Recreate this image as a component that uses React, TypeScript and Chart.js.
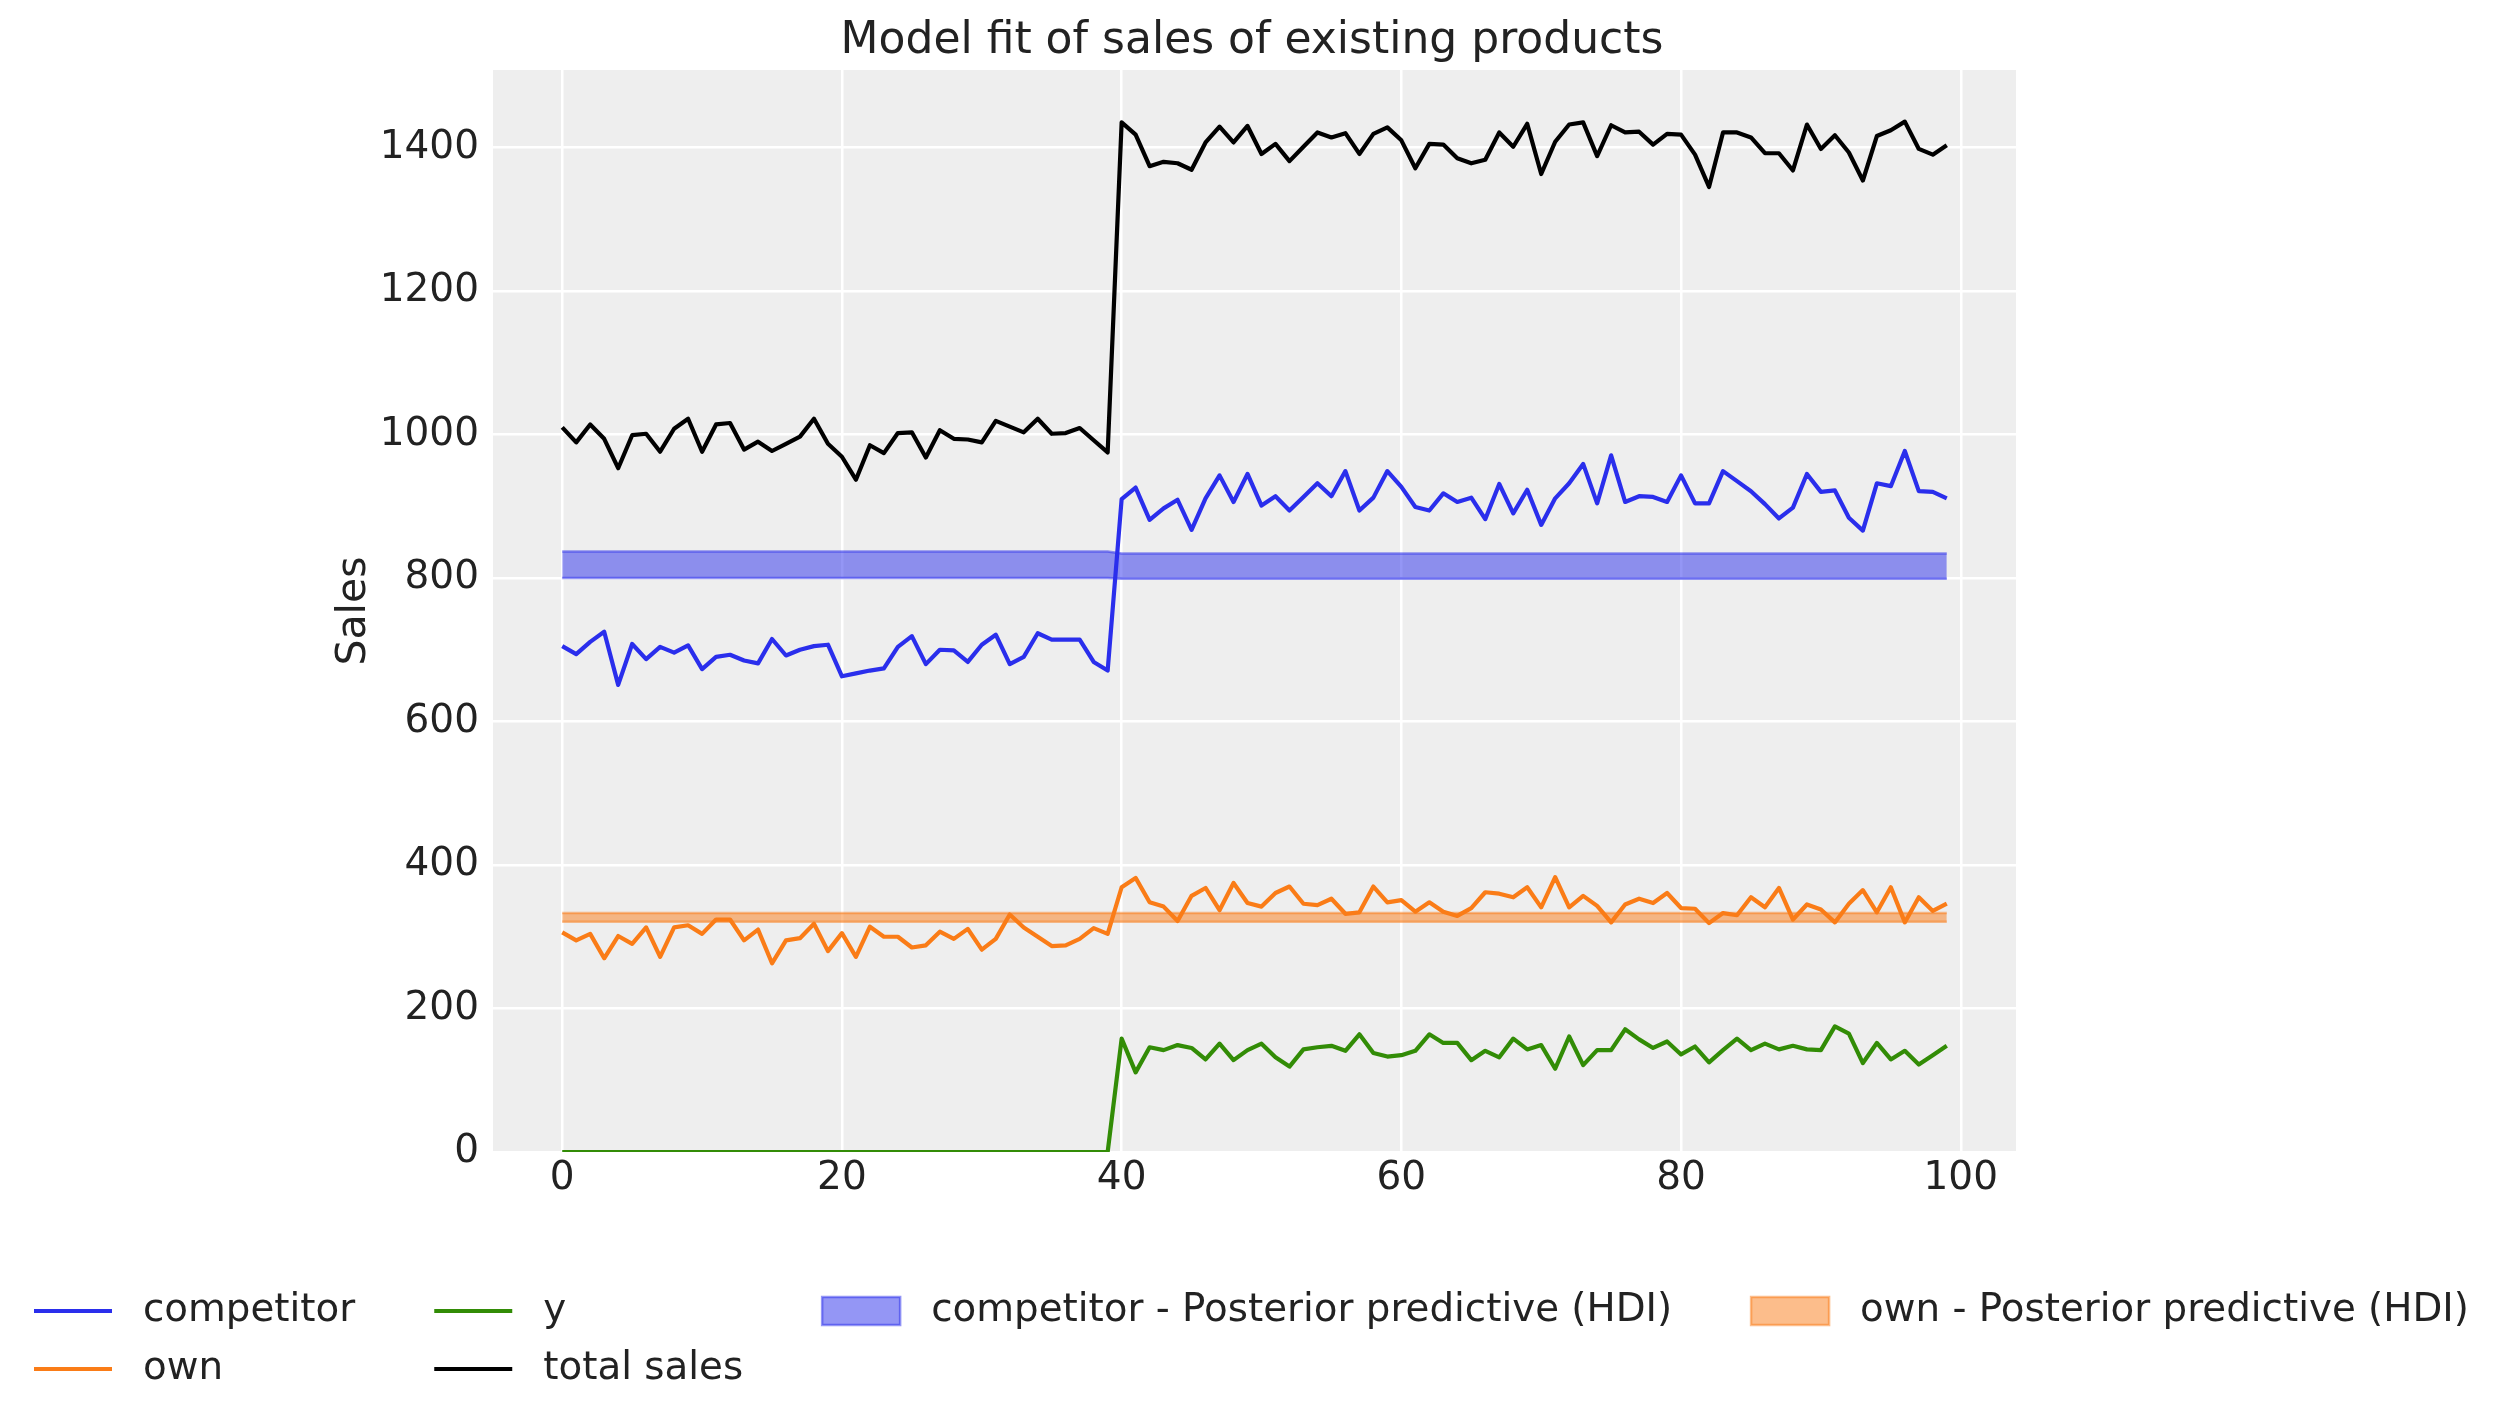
import { useEffect, useRef } from "react";
import { Chart, registerables } from "chart.js";

Chart.register(...registerables);

// values, one per time step 0..99
const competitor = [
  705, 694, 711, 725, 651, 708, 687, 704, 696, 706, 673, 690, 693, 685, 681, 715, 692, 700, 705, 707,
  663, 667, 671, 674, 704, 719, 680, 700, 699, 683, 707, 721, 680, 690, 723, 714, 714, 714, 683, 671,
  910, 926, 881, 897, 909, 867, 911, 943, 906, 945, 901, 914, 894, 913, 932, 914, 949, 894, 912, 949,
  927, 899, 894, 918, 906, 912, 882, 931, 890, 923, 874, 911, 932, 959, 904, 971, 906, 914, 913, 906,
  943, 904, 904, 949, 935, 921, 903, 883, 898, 945, 920, 922, 884, 866, 932, 928, 977, 921, 920, 911,
];
const own = [
  306, 295, 304, 270, 301, 290, 313, 272, 313, 316, 304, 324, 324, 295, 310, 263, 295, 298, 318, 280,
  305, 272, 314, 300, 300, 285, 288, 307, 297, 311, 282, 297, 331, 313, 300, 287, 288, 297, 312, 304,
  369, 382, 348, 342, 322, 357, 368, 337, 375, 347, 342, 361, 370, 346, 344, 353, 332, 334, 370, 348,
  351, 335, 348, 335, 329, 340, 362, 360, 355, 369, 341, 383, 341, 357, 343, 320, 345, 353, 347, 361,
  340, 339, 319, 333, 330, 355, 341, 368, 324, 345, 338, 320, 346, 365, 334, 369, 320, 355, 336, 346,
];
const ySales = [
  0, 0, 0, 0, 0, 0, 0, 0, 0, 0, 0, 0, 0, 0, 0, 0, 0, 0, 0, 0,
  0, 0, 0, 0, 0, 0, 0, 0, 0, 0, 0, 0, 0, 0, 0, 0, 0, 0, 0, 0,
  158, 111, 146, 142, 149, 145, 129, 151, 128, 142, 151, 132, 119, 143, 146, 148, 141, 164, 138, 133,
  135, 141, 164, 152, 152, 128, 141, 132, 158, 143, 149, 116, 161, 121, 142, 142, 171, 157, 145, 154,
  136, 147, 125, 142, 158, 142, 151, 143, 148, 143, 142, 175, 165, 124, 152, 129, 141, 122, 135, 148,
];
const totalSales = [
  1010, 989, 1014, 994, 953, 999, 1001, 976, 1008, 1022, 976, 1014, 1016, 979, 990, 977, 987, 997, 1022, 987,
  969, 937, 985, 974, 1002, 1003, 968, 1006, 994, 993, 989, 1019, 1011, 1003, 1022, 1001, 1002, 1009, 992, 975,
  1435, 1418, 1374, 1380, 1378, 1369, 1407, 1429, 1407, 1430, 1391, 1405, 1381, 1401, 1421, 1414, 1420, 1391, 1419, 1428,
  1410, 1371, 1405, 1404, 1385, 1378, 1383, 1421, 1401, 1433, 1363, 1408, 1432, 1435, 1388, 1431, 1421, 1422, 1404, 1419,
  1418, 1390, 1345, 1421, 1421, 1414, 1392, 1392, 1368, 1432, 1398, 1417, 1393, 1354, 1416, 1424, 1436, 1398, 1390, 1403,
];
const competitorHdiLow = [
  800, 800, 800, 800, 800, 800, 800, 800, 800, 800, 800, 800, 800, 800, 800, 800, 800, 800, 800, 800,
  800, 800, 800, 800, 800, 800, 800, 800, 800, 800, 800, 800, 800, 800, 800, 800, 800, 800, 800, 800,
  799, 799, 799, 799, 799, 799, 799, 799, 799, 799, 799, 799, 799, 799, 799, 799, 799, 799, 799, 799,
  799, 799, 799, 799, 799, 799, 799, 799, 799, 799, 799, 799, 799, 799, 799, 799, 799, 799, 799, 799,
  799, 799, 799, 799, 799, 799, 799, 799, 799, 799, 799, 799, 799, 799, 799, 799, 799, 799, 799, 799,
];
const competitorHdiHigh = [
  837, 837, 837, 837, 837, 837, 837, 837, 837, 837, 837, 837, 837, 837, 837, 837, 837, 837, 837, 837,
  837, 837, 837, 837, 837, 837, 837, 837, 837, 837, 837, 837, 837, 837, 837, 837, 837, 837, 837, 837,
  834, 834, 834, 834, 834, 834, 834, 834, 834, 834, 834, 834, 834, 834, 834, 834, 834, 834, 834, 834,
  834, 834, 834, 834, 834, 834, 834, 834, 834, 834, 834, 834, 834, 834, 834, 834, 834, 834, 834, 834,
  834, 834, 834, 834, 834, 834, 834, 834, 834, 834, 834, 834, 834, 834, 834, 834, 834, 834, 834, 834,
];
const ownHdiLow = [
  321, 321, 321, 321, 321, 321, 321, 321, 321, 321, 321, 321, 321, 321, 321, 321, 321, 321, 321, 321,
  321, 321, 321, 321, 321, 321, 321, 321, 321, 321, 321, 321, 321, 321, 321, 321, 321, 321, 321, 321,
  321, 321, 321, 321, 321, 321, 321, 321, 321, 321, 321, 321, 321, 321, 321, 321, 321, 321, 321, 321,
  321, 321, 321, 321, 321, 321, 321, 321, 321, 321, 321, 321, 321, 321, 321, 321, 321, 321, 321, 321,
  321, 321, 321, 321, 321, 321, 321, 321, 321, 321, 321, 321, 321, 321, 321, 321, 321, 321, 321, 321,
];
const ownHdiHigh = [
  333, 333, 333, 333, 333, 333, 333, 333, 333, 333, 333, 333, 333, 333, 333, 333, 333, 333, 333, 333,
  333, 333, 333, 333, 333, 333, 333, 333, 333, 333, 333, 333, 333, 333, 333, 333, 333, 333, 333, 333,
  333, 333, 333, 333, 333, 333, 333, 333, 333, 333, 333, 333, 333, 333, 333, 333, 333, 333, 333, 333,
  333, 333, 333, 333, 333, 333, 333, 333, 333, 333, 333, 333, 333, 333, 333, 333, 333, 333, 333, 333,
  333, 333, 333, 333, 333, 333, 333, 333, 333, 333, 333, 333, 333, 333, 333, 333, 333, 333, 333, 333,
];
const xTicks = [0, 20, 40, 60, 80, 100];
const yTicks = [0, 200, 400, 600, 800, 1000, 1200, 1400];

const BLUE = "#2a2eec";
const ORANGE = "#fa7c17";
const GREEN = "#328c06";
const BLUE_A = "rgba(42, 46, 236, 0.5)";
const ORANGE_A = "rgba(250, 124, 23, 0.5)";
const TEXT = "#222222";
const FONT = '"DejaVu Sans"';

const toPoints = (vals: number[]) => vals.map((v, i) => ({ x: i, y: v }));

// matplotlib style legend: 4 columns, filled column by column
const legendColumns = [
  [
    { label: "competitor", color: BLUE, patch: false },
    { label: "own", color: ORANGE, patch: false },
  ],
  [
    { label: "y", color: GREEN, patch: false },
    { label: "total sales", color: "#000000", patch: false },
  ],
  [{ label: "competitor - Posterior predictive (HDI)", color: BLUE_A, patch: true }],
  [{ label: "own - Posterior predictive (HDI)", color: ORANGE_A, patch: true }],
];

const backdrop = {
  id: "backdrop",
  beforeDraw(chart: Chart) {
    const { ctx, chartArea: a } = chart;
    ctx.save();
    ctx.fillStyle = "#ffffff";
    ctx.fillRect(0, 0, chart.width, chart.height);
    ctx.fillStyle = "#eeeeee";
    ctx.fillRect(a.left, a.top, a.right - a.left, a.bottom - a.top);
    ctx.restore();
  },
};

const decorations = {
  id: "decorations",
  afterDraw(chart: Chart) {
    const { ctx, chartArea: a } = chart;
    ctx.save();
    ctx.fillStyle = TEXT;

    // title
    ctx.font = `44px ${FONT}`;
    ctx.textAlign = "center";
    ctx.textBaseline = "alphabetic";
    ctx.fillText("Model fit of sales of existing products", chart.width / 2, 53);

    // y axis label
    ctx.save();
    ctx.translate(365, (a.top + a.bottom) / 2);
    ctx.rotate(-Math.PI / 2);
    ctx.font = `41px ${FONT}`;
    ctx.fillText("Sales", 0, 0);
    ctx.restore();

    // legend
    const rowY = [1311, 1369];
    const handleLen = 78;
    const textPad = 31;
    const colGap = 79;
    ctx.font = `38.8px ${FONT}`;
    ctx.textAlign = "left";
    ctx.textBaseline = "middle";
    let x = 34;
    legendColumns.forEach((col) => {
      const w = Math.max(...col.map((it) => ctx.measureText(it.label).width));
      col.forEach((it, row) => {
        const yy = rowY[row];
        if (it.patch) {
          ctx.fillStyle = it.color;
          ctx.fillRect(x, yy - 14, handleLen, 28);
          ctx.strokeStyle = it.color;
          ctx.lineWidth = 2.5;
          ctx.strokeRect(x, yy - 14, handleLen, 28);
        } else {
          ctx.strokeStyle = it.color;
          ctx.lineWidth = 4;
          ctx.beginPath();
          ctx.moveTo(x, yy);
          ctx.lineTo(x + handleLen, yy);
          ctx.stroke();
        }
        ctx.fillStyle = TEXT;
        ctx.fillText(it.label, x + handleLen + textPad, yy);
      });
      x += handleLen + textPad + w + colGap;
    });
    ctx.restore();
  },
};

export default function App() {
  const canvasRef = useRef<HTMLCanvasElement>(null);
  const chartRef = useRef<Chart | null>(null);

  useEffect(() => {
    if (!canvasRef.current) return;
    if (chartRef.current) chartRef.current.destroy();

    const band = (data: number[], color: string, fill: string | boolean) => ({
      label: "",
      data: toPoints(data),
      borderColor: color,
      backgroundColor: color,
      borderWidth: 2.5,
      pointRadius: 0,
      fill,
      order: 10,
    });
    const line = (label: string, data: number[], color: string) => ({
      label,
      data: toPoints(data),
      borderColor: color,
      borderWidth: 4.2,
      borderJoinStyle: "round" as const,
      pointRadius: 0,
      fill: false,
      tension: 0,
      order: 0,
    });

    chartRef.current = new Chart(canvasRef.current, {
      type: "line",
      data: {
        datasets: [
          band(competitorHdiLow, BLUE_A, false),
          band(competitorHdiHigh, BLUE_A, "-1"),
          band(ownHdiLow, ORANGE_A, false),
          band(ownHdiHigh, ORANGE_A, "-1"),
          line("competitor", competitor, BLUE),
          line("own", own, ORANGE),
          { ...line("y", ySales, GREEN), clip: 0 },
          line("total sales", totalSales, "#000000"),
        ] as any,
      },
      options: {
        animation: false,
        responsive: true,
        maintainAspectRatio: false,
        layout: { padding: { left: 0, right: 488, top: 70, bottom: 0 } },
        plugins: {
          legend: { display: false },
          title: { display: false },
          tooltip: { enabled: false },
        },
        scales: {
          x: {
            type: "linear",
            min: -4.95,
            max: 103.95,
            afterBuildTicks: (scale: any) => {
              scale.ticks = xTicks.map((v) => ({ value: v }));
            },
            afterFit: (scale: any) => {
              scale.height = 271;
            },
            ticks: {
              callback: (v: any) => String(v),
              font: { family: "DejaVu Sans", size: 39 },
              color: TEXT,
              padding: 3,
              maxRotation: 0,
            },
            grid: { color: "#ffffff", lineWidth: 2.5, drawTicks: false },
            border: { display: false },
          },
          y: {
            type: "linear",
            min: 0,
            max: 1508,
            afterBuildTicks: (scale: any) => {
              scale.ticks = yTicks.map((v) => ({ value: v }));
            },
            afterFit: (scale: any) => {
              scale.width = 493;
            },
            ticks: {
              callback: (v: any) => String(v),
              font: { family: "DejaVu Sans", size: 39 },
              color: TEXT,
              padding: 14,
            },
            grid: { color: "#ffffff", lineWidth: 2.5, drawTicks: false },
            border: { display: false },
          },
        },
      },
      plugins: [backdrop, decorations],
    });

    return () => {
      if (chartRef.current) {
        chartRef.current.destroy();
        chartRef.current = null;
      }
    };
  }, []);

  return (
    <div style={{ position: "fixed", left: 0, top: 0, width: 2504, height: 1423, background: "#ffffff" }}>
      <canvas ref={canvasRef} />
    </div>
  );
}
